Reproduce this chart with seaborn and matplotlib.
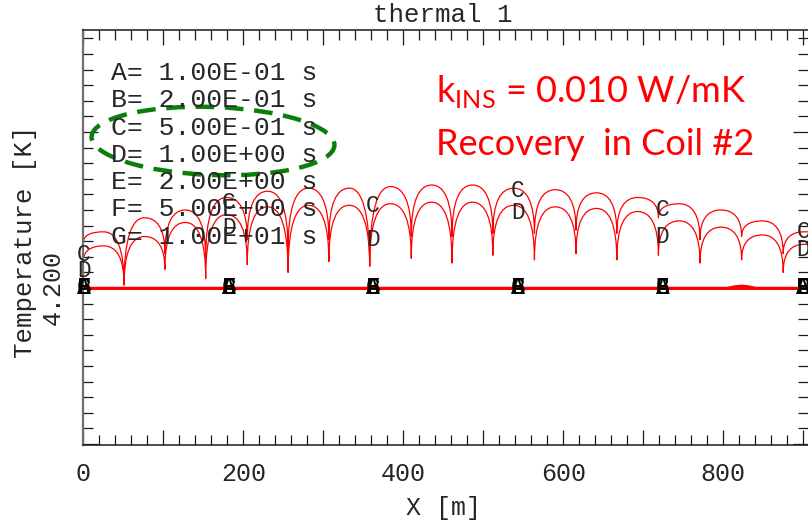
import matplotlib
matplotlib.use("Agg")
import matplotlib.pyplot as plt
import matplotlib.transforms as mtransforms
import pandas as pd
import seaborn as sns
from matplotlib.path import Path
from matplotlib.patches import PathPatch, Ellipse
from matplotlib.ticker import FixedLocator, FixedFormatter, MultipleLocator, NullFormatter

# ---------------- data ----------------
# positions of the cusps (dips) along the conductor, m
dip_x = [51, 102, 153, 205, 256, 307, 358, 410, 461, 512, 564, 616, 667, 719, 771, 823, 875]
# curve C (t = 0.5 s)
c_start = 4.229
c_dip = [4.202, 4.222, 4.219, 4.231, 4.224, 4.231, 4.214, 4.233, 4.233,
         4.235, 4.235, 4.237, 4.235, 4.245, 4.231, 4.233, 4.222]
c_top = [4.236, 4.245, 4.250, 4.258, 4.262, 4.264, 4.264, 4.265, 4.266,
         4.266, 4.264, 4.263, 4.261, 4.258, 4.254, 4.250, 4.243, 4.236]
# curve D (t = 1.0 s)
d_start = 4.217
d_dip = [4.202, 4.212, 4.206, 4.215, 4.210, 4.217, 4.214, 4.219, 4.216,
         4.221, 4.218, 4.222, 4.218, 4.221, 4.216, 4.218, 4.210]
d_top = [4.227, 4.233, 4.242, 4.247, 4.252, 4.253, 4.253, 4.254, 4.255,
         4.255, 4.253, 4.252, 4.251, 4.249, 4.243, 4.239, 4.234, 4.228]

# flat curves A, B, E, F, G (already recovered to 4.2 K)
flat_x = [0, 180, 360, 540, 720, 805, 814, 823, 832, 841, 906]
flat_A = [4.2, 4.2, 4.2, 4.2, 4.2, 4.2, 4.2, 4.2, 4.2, 4.2, 4.2]
flat_B = [4.2, 4.2, 4.2, 4.2, 4.2, 4.2, 4.2, 4.2, 4.2, 4.2, 4.2]
flat_E = [4.2, 4.2, 4.2, 4.2, 4.2, 4.2, 4.2, 4.2, 4.2, 4.2, 4.2]
flat_F = [4.2, 4.2, 4.2, 4.2, 4.2, 4.2, 4.2, 4.2, 4.2, 4.2, 4.2]
flat_G = [4.2, 4.2, 4.2, 4.2, 4.2, 4.2, 4.2009, 4.2014, 4.2009, 4.2, 4.2]

# curve-label positions
label_x = [1, 182, 362, 543, 724, 900]
label_c_y = [4.2212, 4.2545, 4.2532, 4.2628, 4.2500, 4.2359]
label_d_y = [4.2115, 4.2391, 4.2308, 4.2487, 4.2327, 4.2244]

legend_lines = ["A= 1.00E-01 s", "B= 2.00E-01 s", "C= 5.00E-01 s", "D= 1.00E+00 s",
                "E= 2.00E+00 s", "F= 5.00E+00 s", "G= 1.00E+01 s"]

x_ticks = [0, 100, 200, 300, 400, 500, 600, 700, 800, 900]
x_tick_labels = ["0", "", "200", "", "400", "", "600", "", "800", ""]
y_ticks = [4.1, 4.2, 4.3]
y_tick_labels = ["", "4.200", ""]

X_MAX = 906
Y_MIN, Y_MAX = 4.09936, 4.36538

# ---------------- style ----------------
sns.set_theme(style="ticks")
MONO = ["Liberation Mono", "DejaVu Sans Mono"]
plt.rcParams["font.family"] = MONO
TXT = "#262626"

W, H = 808, 521
fig = plt.figure(figsize=(W / 100, H / 100), dpi=100)
fig.patch.set_facecolor("white")
ax = fig.add_axes([83.3 / W, (H - 445) / H, (W - 83.3) / W, (445 - 30) / H])
ax.set_facecolor("white")

# flat curves via seaborn
rows = []
for name, vals in zip(["A", "B", "E", "F", "G"], [flat_A, flat_B, flat_E, flat_F, flat_G]):
    for xv, yv in zip(flat_x, vals):
        rows.append({"x": xv, "T": yv, "series": name})
df_flat = pd.DataFrame(rows)
sns.lineplot(data=df_flat, x="x", y="T", hue="series", palette=["red"] * 5,
             linewidth=1.8, legend=False, ax=ax, sort=False)


# scalloped curves C and D: cubic Bezier arcs through the read dips / tops
def arch_path(start_y, dips_y, tops):
    rise, flat = 0.7, 0.62
    xs = [0] + dip_x
    ys = [start_y] + dips_y
    verts = [(xs[0], ys[0])]
    codes = [Path.MOVETO]
    for i, t in enumerate(tops):
        x0, y0 = xs[i], ys[i]
        if i + 1 < len(xs):
            x1, y1 = xs[i + 1], ys[i + 1]
        else:
            x1, y1 = x0 + (xs[i] - xs[i - 1]), None
        m = (x0 + x1) / 2
        verts += [(x0, y0 + rise * (t - y0)), (m - flat * (m - x0), t), (m, t)]
        codes += [Path.CURVE4] * 3
        if y1 is None:
            verts.append((X_MAX + 5, t))
            codes.append(Path.LINETO)
        else:
            verts += [(m + flat * (x1 - m), t), (x1, y1 + rise * (t - y1)), (x1, y1)]
            codes += [Path.CURVE4] * 3
    return Path(verts, codes)


for sy, dy, ty in [(c_start, c_dip, c_top), (d_start, d_dip, d_top)]:
    ax.add_patch(PathPatch(arch_path(sy, dy, ty), facecolor="none", edgecolor="red",
                           linewidth=0.9, joinstyle="round", transform=ax.transData))

# curve labels
for lx, cy, dy in zip(label_x, label_c_y, label_d_y):
    ax.text(lx, cy, "C", ha="center", va="center", fontsize=16.5, color=TXT, clip_on=False)
    ax.text(lx, dy, "D", ha="center", va="center", fontsize=16.5, color=TXT, clip_on=False)
    for letter in ["A", "B", "E", "F", "G"]:
        ax.text(lx, 4.2, letter, ha="center", va="center", fontsize=16.5,
                color="black", clip_on=False)

# axes limits & ticks
ax.set_xlim(0, X_MAX)
ax.set_ylim(Y_MIN, Y_MAX)
ax.xaxis.set_major_locator(FixedLocator(x_ticks))
ax.xaxis.set_major_formatter(FixedFormatter(x_tick_labels))
ax.xaxis.set_minor_locator(MultipleLocator(20))
ax.yaxis.set_major_locator(FixedLocator(y_ticks))
ax.yaxis.set_major_formatter(FixedFormatter(y_tick_labels))
ax.yaxis.set_minor_locator(MultipleLocator(0.01))
ax.yaxis.set_minor_formatter(NullFormatter())

ax.tick_params(which="both", direction="in", top=True, right=True, color="#1a1a1a", width=0.9)
ax.tick_params(which="major", length=11)
ax.tick_params(which="minor", length=7.5)
ax.tick_params(axis="x", which="major", labelsize=18, pad=12, labelcolor=TXT)
ax.tick_params(axis="y", which="major", labelsize=18, pad=13, labelrotation=90, labelcolor=TXT)
for lbl in ax.get_yticklabels():
    lbl.set_va("center")

for side in ["top", "bottom"]:
    ax.spines[side].set_color("#1a1a1a")
    ax.spines[side].set_linewidth(1.1)
ax.spines["left"].set_color("#707070")
ax.spines["left"].set_linewidth(1.6)
ax.spines["right"].set_visible(False)

ax.set_xlabel("X [m]", fontsize=18, color=TXT)
ax.set_ylabel("Temperature [K]", fontsize=18.5, color=TXT)
ax.xaxis.set_label_coords((443 - 83.3) / (W - 83.3), (445 - 508) / 415)
ax.xaxis.label.set_va("center")
ax.yaxis.set_label_coords((25 - 83.3) / (W - 83.3), 0.49)
ax.yaxis.label.set_va("center")

# title
fig.text(443 / W, (H - 15) / H, "thermal 1", ha="center", va="center", fontsize=18.5, color=TXT)

# time legend
for i, line in enumerate(legend_lines):
    ypx = 73 + 27.3 * i
    fig.text(111 / W, (H - ypx) / H, line, ha="left", va="center", fontsize=19, color=TXT)

# red annotations
SANS = ["Lato", "DejaVu Sans"]
fig.text(436 / W, (H - 101.7) / H, r"k$_{\mathregular{INS}}$ = 0.010 W/mK", ha="left",
         va="baseline", fontsize=26, color="red", family=SANS)
fig.text(436 / W, (H - 155) / H, "Recovery  in Coil #2", ha="left", va="baseline",
         fontsize=26, color="red", family=SANS)

# green dashed ellipse highlighting C and D
px_to_fig = mtransforms.Affine2D().scale(1 / W, 1 / H) + fig.transFigure
fig.patches.append(Ellipse((213, H - 141), 243, 68, angle=-2, fill=False,
                           edgecolor="#0b7f0b", linewidth=3.2,
                           linestyle=(0, (4.2, 2.4)), transform=px_to_fig))

fig.savefig("out.png", dpi=100)
